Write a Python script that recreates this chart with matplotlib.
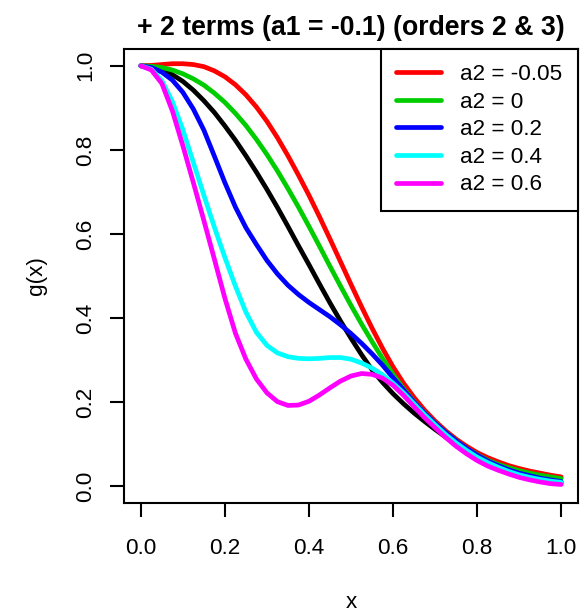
import numpy as np
import matplotlib
matplotlib.use("Agg")
import matplotlib.pyplot as plt

# sample grid along x (0 .. 1 by 0.025)
x = np.round(np.arange(41) * 0.025, 3)

# values
g_black = [1.000, 0.998, 0.991, 0.979, 0.963, 0.942, 0.917, 0.889, 0.857, 0.823,
           0.786, 0.747, 0.706, 0.663, 0.618, 0.572, 0.527, 0.481, 0.436, 0.393,
           0.352, 0.313, 0.277, 0.247, 0.220, 0.196, 0.174, 0.154, 0.135, 0.117,
           0.100, 0.085, 0.071, 0.058, 0.047, 0.037, 0.029, 0.022, 0.016, 0.011, 0.007]
g_red = [1.000, 1.001, 1.003, 1.005, 1.005, 1.003, 0.998, 0.988, 0.974, 0.955,
         0.931, 0.902, 0.868, 0.829, 0.786, 0.740, 0.692, 0.641, 0.588, 0.534,
         0.480, 0.427, 0.376, 0.328, 0.284, 0.245, 0.211, 0.181, 0.155, 0.132,
         0.112, 0.095, 0.080, 0.068, 0.058, 0.049, 0.042, 0.036, 0.031, 0.026, 0.022]
g_green = [1.000, 0.999, 0.996, 0.990, 0.981, 0.969, 0.954, 0.935, 0.913, 0.887,
           0.858, 0.825, 0.789, 0.750, 0.708, 0.664, 0.618, 0.571, 0.523, 0.476,
           0.430, 0.386, 0.344, 0.304, 0.266, 0.232, 0.201, 0.174, 0.150, 0.128,
           0.108, 0.090, 0.075, 0.062, 0.052, 0.044, 0.037, 0.031, 0.026, 0.022, 0.018]
g_blue = [1.000, 0.996, 0.985, 0.966, 0.937, 0.897, 0.847, 0.785, 0.722, 0.664,
          0.615, 0.575, 0.537, 0.505, 0.478, 0.456, 0.437, 0.420, 0.403, 0.384,
          0.363, 0.340, 0.315, 0.288, 0.258, 0.229, 0.200, 0.174, 0.150, 0.128,
          0.108, 0.090, 0.074, 0.060, 0.049, 0.039, 0.031, 0.025, 0.019, 0.015, 0.011]
g_cyan = [1.000, 0.992, 0.965, 0.915, 0.848, 0.770, 0.692, 0.616, 0.544, 0.476,
          0.414, 0.366, 0.335, 0.317, 0.308, 0.304, 0.303, 0.304, 0.306, 0.306,
          0.302, 0.293, 0.281, 0.265, 0.245, 0.222, 0.196, 0.170, 0.146, 0.123,
          0.103, 0.085, 0.069, 0.056, 0.045, 0.035, 0.027, 0.021, 0.016, 0.012, 0.009]
g_magenta = [1.000, 0.990, 0.958, 0.893, 0.810, 0.722, 0.632, 0.540, 0.447, 0.364,
             0.302, 0.255, 0.222, 0.201, 0.192, 0.193, 0.202, 0.217, 0.234, 0.250,
             0.262, 0.268, 0.266, 0.257, 0.240, 0.216, 0.189, 0.163, 0.139, 0.116,
             0.095, 0.077, 0.061, 0.048, 0.038, 0.029, 0.021, 0.015, 0.010, 0.006, 0.004]

labels = ["a2 = -0.05", "a2 = 0", "a2 = 0.2", "a2 = 0.4", "a2 = 0.6"]
colors = ["#ff0000", "#00cd00", "#0000ff", "#00ffff", "#ff00ff"]

plt.rcParams['font.family'] = ['Liberation Sans', 'DejaVu Sans']

fig = plt.figure(figsize=(5.83, 6.14), dpi=100)
ax = fig.add_axes([0.2127, 0.1808, 0.7787, 0.7394])

lw = 3.4
ax.plot(x, g_black, color='black', lw=lw, solid_capstyle='round')
for vals, col, lab in zip([g_red, g_green, g_blue, g_cyan, g_magenta], colors, labels):
    ax.plot(x, vals, color=col, lw=lw, label=lab, solid_capstyle='round')

ax.set_xlim(-0.04, 1.04)
ax.set_ylim(-0.04, 1.04)
ticks = [0.0, 0.2, 0.4, 0.6, 0.8, 1.0]
ax.set_xticks(ticks)
ax.set_yticks(ticks)
ax.set_xticklabels(["%.1f" % t for t in ticks])
ax.set_yticklabels(["%.1f" % t for t in ticks], rotation=90, va='center')
ax.tick_params(direction='out', length=10, width=1.5, labelsize=16.2)
ax.tick_params(axis='x', pad=15)
ax.tick_params(axis='y', pad=10)
for s in ax.spines.values():
    s.set_linewidth(1.5)

ax.set_xlabel("x", fontsize=16.2, labelpad=24)
ax.set_ylabel("g(x)", fontsize=16.2, labelpad=20)
ax.set_title("+ 2 terms (a1 = -0.1) (orders 2 & 3)", fontsize=19.2,
             fontweight='bold', pad=10)

leg = ax.legend(loc='upper right', bbox_to_anchor=(1.0, 1.0), borderaxespad=0,
                fontsize=16.2, handlelength=2.0, handletextpad=0.85,
                labelspacing=0.29, borderpad=0.68, fancybox=False,
                framealpha=1, edgecolor='black')
leg.get_frame().set_linewidth(1.5)

fig.savefig("out.png", dpi=100)
